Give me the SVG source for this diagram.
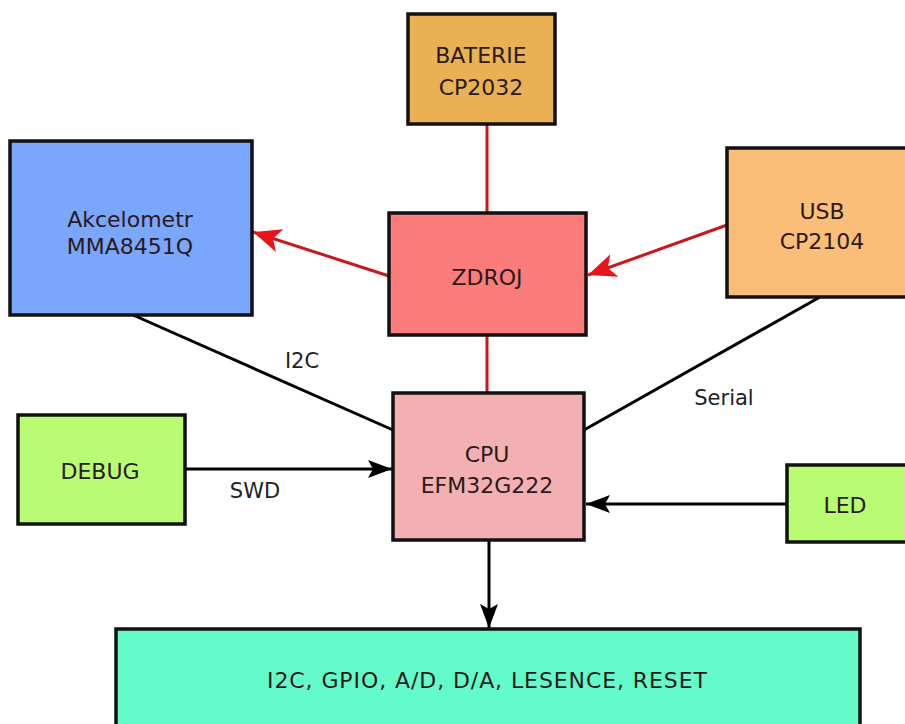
<svg xmlns="http://www.w3.org/2000/svg" width="905" height="724" viewBox="0 0 905 724">
<style>
.box{stroke:#111;stroke-width:3.5}
.t{font-family:"DejaVu Sans","Liberation Sans",sans-serif;font-size:22px;fill:#2a1a1a;text-anchor:middle}
.lbl{font-family:"DejaVu Sans","Liberation Sans",sans-serif;font-size:21px;fill:#222;text-anchor:middle}
.red{stroke:#c8181c;stroke-width:3;fill:none}
.blk{stroke:#000;stroke-width:3;fill:none}
</style>
<defs>
<marker id="ar" markerUnits="userSpaceOnUse" markerWidth="32" markerHeight="32" refX="28" refY="14" orient="auto">
<path d="M0,2 L28,14 L0,26 L7,14 Z" fill="#e8141c"/>
</marker>
<marker id="ab" markerUnits="userSpaceOnUse" markerWidth="30" markerHeight="30" refX="24" refY="12" orient="auto">
<path d="M0,3 L24,12 L0,21 L5,12 Z" fill="#000"/>
</marker>
</defs>
<rect width="905" height="724" fill="#fff"/>
<g id="connectors">
<line class="red" x1="487" y1="124" x2="487" y2="213"/>
<line class="red" x1="487" y1="335" x2="487" y2="393"/>
<line class="red" x1="389" y1="276" x2="253" y2="232" marker-end="url(#ar)"/>
<line class="red" x1="727" y1="225" x2="588" y2="275" marker-end="url(#ar)"/>
<line class="blk" x1="133" y1="315" x2="393" y2="430"/>
<line class="blk" x1="820" y1="297" x2="584" y2="430"/>
<line class="blk" x1="185" y1="469" x2="392" y2="469" marker-end="url(#ab)"/>
<line class="blk" x1="787" y1="504" x2="586" y2="504" marker-end="url(#ab)"/>
<line class="blk" x1="489" y1="540" x2="489" y2="628" marker-end="url(#ab)"/>
<text class="lbl" x="302" y="368">I2C</text>
<text class="lbl" x="724" y="405">Serial</text>
<text class="lbl" x="255" y="498">SWD</text>
</g>
<g id="baterie">
<rect class="box" x="408" y="14" width="147" height="110" fill="#e9b153"/>
<text class="t" x="481" y="63">BATERIE</text>
<text class="t" x="481" y="95">CP2032</text>
</g>
<g id="akcelometr">
<rect class="box" x="10" y="141" width="242" height="174" fill="#7aa6fb"/>
<text class="t" x="130" y="227" fill="#1a2040">Akcelometr</text>
<text class="t" x="130" y="254" fill="#1a2040">MMA8451Q</text>
</g>
<g id="zdroj">
<rect class="box" x="389" y="213" width="197" height="122" fill="#fc7b7b"/>
<text class="t" x="487" y="285">ZDROJ</text>
</g>
<g id="usb">
<rect class="box" x="727" y="148" width="190" height="149" fill="#fbbe78"/>
<text class="t" x="822" y="219">USB</text>
<text class="t" x="822" y="249">CP2104</text>
</g>
<g id="cpu">
<rect class="box" x="393" y="393" width="191" height="147" fill="#f2b0b3"/>
<text class="t" x="487" y="462">CPU</text>
<text class="t" x="487" y="493">EFM32G222</text>
</g>
<g id="debug">
<rect class="box" x="18" y="415" width="167" height="109" fill="#b9fb72"/>
<text class="t" x="100" y="479">DEBUG</text>
</g>
<g id="led">
<rect class="box" x="787" y="465" width="130" height="77" fill="#b9fb72"/>
<text class="t" x="845" y="513">LED</text>
</g>
<g id="periph">
<rect class="box" x="116" y="629" width="744" height="110" fill="#62fbc9"/>
<text class="t" x="487" y="688" textLength="440" lengthAdjust="spacing">I2C, GPIO, A/D, D/A, LESENCE, RESET</text>
</g>
</svg>
